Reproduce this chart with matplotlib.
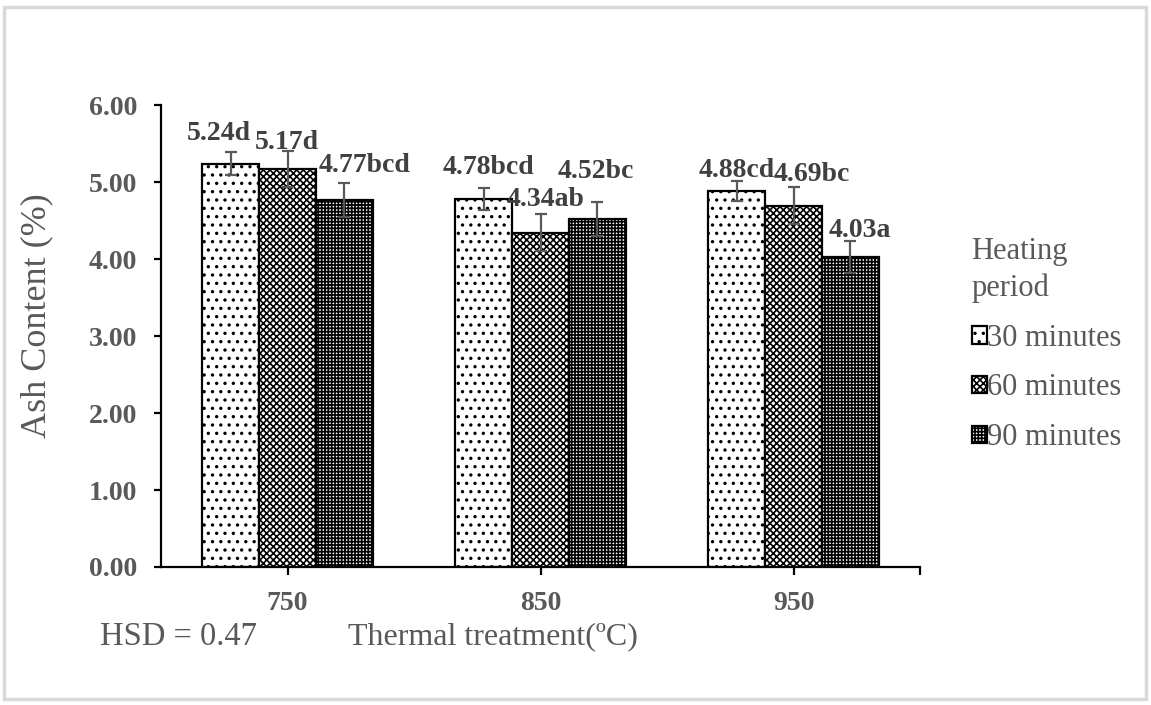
import numpy as np
import matplotlib as mpl
import matplotlib.pyplot as plt
from matplotlib.patches import Rectangle

plt.rcParams['font.family'] = ['Liberation Serif', 'DejaVu Serif']
plt.rcParams['hatch.linewidth'] = 1.2

temps = ['750', '850', '950']
periods = ['30 minutes', '60 minutes', '90 minutes']
ash_30 = [5.24, 4.78, 4.88]
ash_60 = [5.17, 4.34, 4.69]
ash_90 = [4.77, 4.52, 4.03]
err_30 = [0.15, 0.14, 0.13]
err_60 = [0.23, 0.24, 0.24]
err_90 = [0.22, 0.22, 0.21]
letters_30 = ['d', 'bcd', 'cd']
letters_60 = ['d', 'ab', 'bc']
letters_90 = ['bcd', 'bc', 'a']

# label offsets from bar top (pixels), tuned by eye
lbl_off = [
    [(-12, 30), (5, 31), (0, 21)],
    [(-1, 26), (5, 33), (18, 31)],
    [(20, 34), (-2, 47), (9, 26)],
]

hatches = ['..', 'xxxxx', '+++++']
tick_grey = '#595959'
lbl_grey = '#404040'

fig = plt.figure(figsize=(11.51, 7.05), dpi=100)
ax = fig.add_axes([161 / 1151, 1 - 567 / 705, (920 - 161) / 1151, (567 - 105) / 705])

# light grey frame around the whole chart
fig.patches.append(Rectangle((4 / 1151, 6 / 705), 1142 / 1151, 692 / 705,
                             transform=fig.transFigure, fill=False,
                             edgecolor='#d9d9d9', linewidth=2.5))

x = np.arange(len(temps))
w = 0.225
series = [ash_30, ash_60, ash_90]
errs = [err_30, err_60, err_90]
letters = [letters_30, letters_60, letters_90]

handles = []
for i, (vals, e, let) in enumerate(zip(series, errs, letters)):
    xs = x + (i - 1) * w
    b = ax.bar(xs, vals, w, color='white', edgecolor='black', linewidth=1.6,
               hatch=hatches[i], label=periods[i], zorder=2)
    handles.append(b)
    ax.errorbar(xs, vals, yerr=e, fmt='none', ecolor='#595959', elinewidth=1.6,
                capsize=4.5, capthick=1.6, zorder=3)
    for j in range(len(vals)):
        dx, dy = lbl_off[i][j]
        ax.annotate(f'{vals[j]:.2f}{let[j]}', xy=(xs[j], vals[j]),
                    xytext=(dx * 0.72, dy * 0.72), textcoords='offset points',
                    ha='center', va='center', fontsize=20, fontweight='bold',
                    color=lbl_grey, zorder=4)

ax.set_xlim(-0.5, 2.5)
ax.set_ylim(0, 6)
ax.set_xticks(x)
ax.set_xticklabels(temps)
ax.set_xticks([2.5], minor=True)
ax.set_yticks(np.arange(0, 7))
ax.set_yticklabels([f'{v:.2f}' for v in np.arange(0, 7)])
for s in ['top', 'right']:
    ax.spines[s].set_visible(False)
for s in ['left', 'bottom']:
    ax.spines[s].set_linewidth(1.6)
ax.tick_params(axis='x', which='both', direction='out', length=6, width=1.6, pad=11,
               labelsize=20, labelcolor=tick_grey)
ax.tick_params(axis='y', direction='out', length=5, width=1.6, pad=12,
               labelsize=20, labelcolor=tick_grey)
for t in ax.get_xticklabels() + ax.get_yticklabels():
    t.set_fontweight('bold')

fig.text(37 / 1151, 1 - 316 / 705, 'Ash Content (%)', rotation=90, ha='center',
         va='center', fontsize=26, color=tick_grey)
fig.text(493 / 1151, 1 - 637 / 705, 'Thermal treatment(ºC)', ha='center',
         va='center', fontsize=23, color=tick_grey)
fig.text(100 / 1151, 1 - 637 / 705, 'HSD = 0.47', ha='left', va='center',
         fontsize=23.5, color=tick_grey)

leg = ax.legend(handles=handles, title='Heating\nperiod', loc='upper left',
                bbox_to_anchor=(944 / 1151, 1 - 209 / 705),
                bbox_transform=fig.transFigure, frameon=False, fontsize=22,
                title_fontsize=22, handlelength=0.5, handleheight=0.5,
                handletextpad=0.0, labelspacing=0.68, alignment='left',
                labelcolor=tick_grey)
leg.get_title().set_color(tick_grey)
leg.get_title().set_linespacing(1.35)

fig.savefig('out.png', dpi=100)
